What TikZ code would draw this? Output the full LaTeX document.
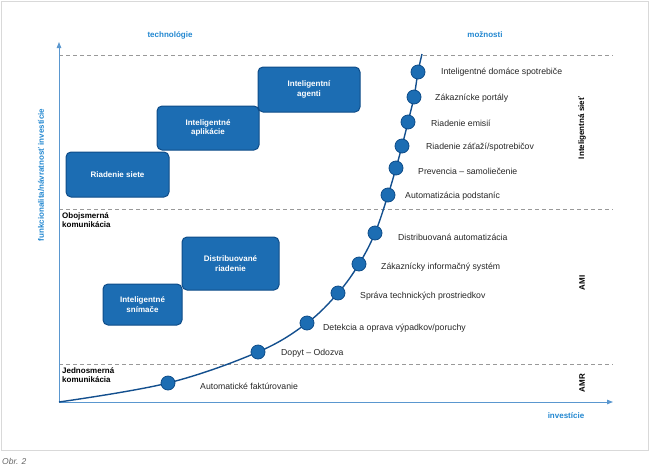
\documentclass[tikz,border=0pt]{standalone}
\usepackage{fontspec}
\setmainfont{Liberation Sans}
\usetikzlibrary{arrows.meta}
\definecolor{boxblue}{HTML}{1C6DB3}
\definecolor{boxedge}{HTML}{0E4C88}
\definecolor{axisblue}{HTML}{5A97CF}
\definecolor{labelblue}{HTML}{2287D0}
\definecolor{curveblue}{HTML}{134F8E}
\tikzset{
    techbox/.style={draw=boxedge, fill=boxblue, rounded corners=5pt, line width=1pt,
        text=white, font=\bfseries\fontsize{8}{9.5}\selectfont, align=center, inner sep=0pt},
    dot/.style={circle, draw=boxedge, fill=boxblue, line width=0.8pt,
        minimum size=14pt, inner sep=0pt},
    levelline/.style={black!40, line width=0.8pt, dash pattern=on 4pt off 3pt},
    axisline/.style={axisblue, line width=1pt, -{Triangle[length=6pt, width=4.5pt]}},
    axistext/.style={text=labelblue, font=\bfseries\fontsize{8}{9.5}\selectfont},
    steptext/.style={anchor=west, text=black!85, font=\fontsize{8.7}{10}\selectfont, inner sep=0pt},
    leveltext/.style={font=\bfseries\fontsize{8}{9.5}\selectfont, align=left, inner sep=0pt}
}
\begin{document}
\begin{tikzpicture}[x=1pt, y=-1pt]
    \useasboundingbox (0, 0) rectangle (650, 469);
    \draw[black!15, line width=1pt] (1, 1) rectangle (648, 450);
    \node[anchor=west, text=black!60, font=\itshape\fontsize{8.5}{10}\selectfont, inner sep=0pt]
        (obr) at (2, 461) {Obr. 2};
    % osi
    \coordinate (origin) at (59, 402);
    \coordinate (ytip) at (59, 42);
    \coordinate (xtip) at (613, 402);
    \coordinate (ctop) at (422, 54);
    \foreach \y in {55, 209, 364}{
        \draw[levelline] (59, \y) -- (613, \y);
    }
    \draw[axisline] (origin) -- (ytip);
    \draw[axisline] (origin) -- (xtip);
    \node[axistext] (tech) at (170, 35) {technológie};
    \node[axistext] (moz) at (485, 35) {možnosti};
    \node[axistext] (inv) at (566, 416) {investície};
    \node[axistext, rotate=90] (func) at (41, 175) {funkcionalita/návratnosť investície};
    % urovne
    \node[leveltext, anchor=north west] (obo) at (62, 212) {Obojsmerná\\komunikácia};
    \node[leveltext, anchor=north west] (jed) at (62, 367) {Jednosmerná\\komunikácia};
    \node[leveltext, rotate=90] (sief) at (582, 128) {Inteligentná sieť};
    \node[leveltext, rotate=90] (ami) at (582, 283) {AMI};
    \node[leveltext, rotate=90] (amr) at (582, 383) {AMR};
    % technologie
    \node[techbox, minimum width=103, minimum height=45] (siete) at (117.5, 174.5) {Riadenie siete};
    \node[techbox, minimum width=102, minimum height=44] (aplik) at (208, 128) {Inteligentné\\aplikácie};
    \node[techbox, minimum width=102, minimum height=45] (agenti) at (309, 89.5) {Inteligentní\\agenti};
    \node[techbox, minimum width=79, minimum height=41] (snim) at (142.5, 304.5) {Inteligentné\\snímače};
    \node[techbox, minimum width=97, minimum height=53] (distr) at (230.5, 263.5) {Distribuované\\riadenie};
    % krivka moznosti
    \foreach \i/\x/\y in {1/168/383, 2/258/352, 3/307/323, 4/338/293, 5/359/264, 6/375/233,
        7/388/195, 8/396/168, 9/402/146, 10/408/122, 11/414/97, 12/418/72}{
        \coordinate (p\i) at (\x, \y);
    }
    \draw[curveblue, line width=1.4pt] plot[smooth, tension=0.6] coordinates {(origin) (p1) (p2)
        (p3) (p4) (p5) (p6) (p7) (p8) (p9) (p10) (p11) (p12) (ctop)};
    \foreach \i/\lx/\ly/\t in {1/200/386/{Automatické faktúrovanie}, 2/281/353/{Dopyt – Odozva},
        3/323/328/{Detekcia a oprava výpadkov/poruchy}, 4/360/296/{Správa technických prostriedkov},
        5/381/267/{Zákaznícky informačný systém}, 6/398/237/{Distribuovaná automatizácia},
        7/405/196/{Automatizácia podstaníc}, 8/418/171/{Prevencia – samoliečenie},
        9/426/147/{Riadenie záťaží/spotrebičov}, 10/431/123/{Riadenie emisií},
        11/435/98/{Zákaznícke portály}, 12/441/72/{Inteligentné domáce spotrebiče}}{
        \node[dot] (m\i) at (p\i) {};
        \node[steptext] (t\i) at (\lx, \ly) {\t};
    }
\end{tikzpicture}
\end{document}
